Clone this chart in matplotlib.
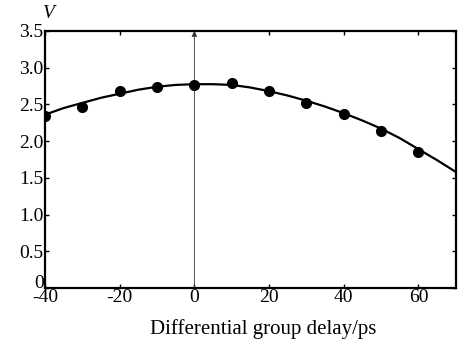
import numpy as np
import matplotlib
matplotlib.use("Agg")
import matplotlib.pyplot as plt

plt.rcParams['font.family'] = ['Liberation Serif', 'DejaVu Serif']
plt.rcParams['axes.unicode_minus'] = False

# measured points
delay = [-40, -30, -20, -10, 0, 10, 20, 30, 40, 50, 60]
visib = [2.34, 2.47, 2.68, 2.74, 2.77, 2.79, 2.68, 2.52, 2.37, 2.14, 1.85]

# fitted curve
curve_x = [-40, -35, -30, -25, -20, -15, -10, -5, 0, 5, 10, 15, 20,
           25, 30, 35, 40, 45, 50, 55, 60, 65, 70]
curve_y = [2.36, 2.45, 2.52, 2.59, 2.645, 2.70, 2.74, 2.765, 2.775, 2.775,
           2.765, 2.73, 2.68, 2.62, 2.55, 2.47, 2.38, 2.28, 2.17, 2.04,
           1.89, 1.74, 1.58]

xticks = [-40, -20, 0, 20, 40, 60]
yticks = [0, 0.5, 1.0, 1.5, 2.0, 2.5, 3.0, 3.5]
ytick_labels = ['0', '0.5', '1.0', '1.5', '2.0', '2.5', '3.0', '3.5']

fig = plt.figure(figsize=(4.59, 3.44), dpi=100)
ax = fig.add_axes([0.098, 0.163, 0.895, 0.747])

ax.plot(curve_x, curve_y, color='black', lw=1.6, zorder=3)
ax.plot(delay, visib, 'o', color='black', ms=7, zorder=4)

# vertical arrow at zero delay
ax.annotate('', xy=(0, 3.5), xytext=(0, 0),
            arrowprops=dict(arrowstyle='-|>', color='#333333', lw=0.6,
                            mutation_scale=8, shrinkA=0, shrinkB=0))

ax.set_xlim(-40, 70)
ax.set_ylim(0, 3.5)
ax.set_xticks(xticks)
ax.set_yticks(yticks)
ax.set_yticklabels(ytick_labels)
ax.tick_params(direction='in', length=3, width=1, labelsize=14,
               top=True, right=True, pad=1)
ax.get_yticklabels()[0].set_verticalalignment('baseline')
for s in ax.spines.values():
    s.set_linewidth(1.6)

ax.set_xlabel('Differential group delay/ps', fontsize=15, labelpad=9)
ax.xaxis.set_label_coords(0.53, -0.12)
ax.xaxis.label.set_verticalalignment('top')
ax.text(-0.005, 1.035, 'V', transform=ax.transAxes, fontsize=14,
        style='italic', ha='left', va='bottom')

fig.savefig('out.png', dpi=100)
